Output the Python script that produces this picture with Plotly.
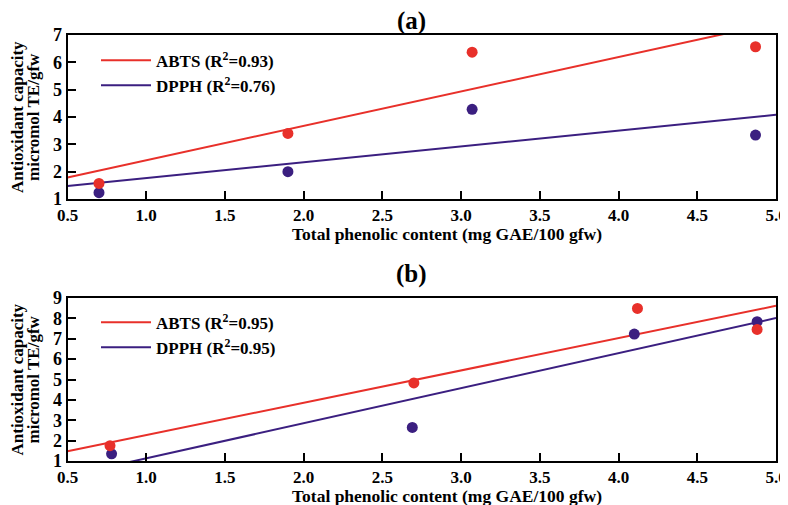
import numpy as np
import plotly.graph_objects as go

# ---------------- data ----------------
# Panel (a)
a_x = [0.70, 1.90, 3.07, 4.87]
a_abts = [1.57, 3.40, 6.37, 6.57]
a_dpph = [1.23, 2.00, 4.28, 3.34]
a_abts_r2 = "0.93"
a_dpph_r2 = "0.76"

# Panel (b)
b_x_abts = [0.77, 2.70, 4.12, 4.88]
b_abts = [1.75, 4.83, 8.49, 7.46]
b_x_dpph = [0.78, 2.69, 4.10, 4.88]
b_dpph = [1.35, 2.65, 7.23, 7.84]
b_abts_r2 = "0.95"
b_dpph_r2 = "0.95"

x_ticks = [0.5, 1.0, 1.5, 2.0, 2.5, 3.0, 3.5, 4.0, 4.5, 5.0]
a_y_ticks = [1, 2, 3, 4, 5, 6, 7]
b_y_ticks = [1, 2, 3, 4, 5, 6, 7, 8, 9]

RED = "#E8302A"
PURPLE = "#3B1F80"
FONT = "Liberation Serif, Times New Roman, serif"

fit_x = np.array([0.5, 5.0])


def fit(x, y):
    k, b = np.polyfit(x, y, 1)
    return k * fit_x + b


fig = go.Figure()

# panel (a)
fig.add_trace(go.Scatter(x=fit_x, y=fit(a_x, a_abts), mode="lines",
                         line=dict(color=RED, width=2),
                         name="<b>ABTS (R<sup>2</sup>=%s)</b>" % a_abts_r2,
                         legend="legend", legendgroup="a1",
                         xaxis="x", yaxis="y"))
fig.add_trace(go.Scatter(x=fit_x, y=fit(a_x, a_dpph), mode="lines",
                         line=dict(color=PURPLE, width=2),
                         name="<b>DPPH (R<sup>2</sup>=%s)</b>" % a_dpph_r2,
                         legend="legend", legendgroup="a2",
                         xaxis="x", yaxis="y"))
fig.add_trace(go.Scatter(x=a_x, y=a_dpph, mode="markers",
                         marker=dict(color=PURPLE, size=11),
                         showlegend=False, xaxis="x", yaxis="y"))
fig.add_trace(go.Scatter(x=a_x, y=a_abts, mode="markers",
                         marker=dict(color=RED, size=11),
                         showlegend=False, xaxis="x", yaxis="y"))

# panel (b)
fig.add_trace(go.Scatter(x=fit_x, y=fit(b_x_abts, b_abts), mode="lines",
                         line=dict(color=RED, width=2),
                         name="<b>ABTS (R<sup>2</sup>=%s)</b>" % b_abts_r2,
                         legend="legend2", legendgroup="b1",
                         xaxis="x2", yaxis="y2"))
fig.add_trace(go.Scatter(x=fit_x, y=fit(b_x_dpph, b_dpph), mode="lines",
                         line=dict(color=PURPLE, width=2),
                         name="<b>DPPH (R<sup>2</sup>=%s)</b>" % b_dpph_r2,
                         legend="legend2", legendgroup="b2",
                         xaxis="x2", yaxis="y2"))
fig.add_trace(go.Scatter(x=b_x_dpph, y=b_dpph, mode="markers",
                         marker=dict(color=PURPLE, size=11),
                         showlegend=False, xaxis="x2", yaxis="y2"))
fig.add_trace(go.Scatter(x=b_x_abts, y=b_abts, mode="markers",
                         marker=dict(color=RED, size=11),
                         showlegend=False, xaxis="x2", yaxis="y2"))

# page body has an 8px margin: figure is laid out in screen pixels minus 8
OFF = 8
W, H = 788 - OFF, 505 - OFF


def px(sx):
    return (sx - OFF) / W


def py(sy):
    return 1 - (sy - OFF) / H


L, R = 67.5, 776
a_top, a_bot = 35, 199
b_top, b_bot = 298, 461

axis_common = dict(showline=True, linecolor="black", linewidth=2, mirror=True,
                   ticks="inside", ticklen=8, tickwidth=1.5, tickcolor="black",
                   showgrid=False, zeroline=False, automargin=False)
xfont = dict(family=FONT, size=17, color="black")
yfont = dict(family=FONT, size=18, color="black")

legend_common = dict(xanchor="left", yanchor="top", bgcolor="rgba(0,0,0,0)",
                     tracegroupgap=0, itemwidth=50,
                     font=dict(family=FONT, size=17, color="black"))

fig.update_layout(
    template="none",
    width=W, height=H,
    margin=dict(l=0, r=0, t=0, b=0, pad=0, autoexpand=False),
    plot_bgcolor="white", paper_bgcolor="white",
    font=dict(family=FONT, color="black"),
    xaxis=dict(domain=[px(L), px(R)], range=[0.5, 5.0], tickvals=x_ticks,
               ticktext=[f"<b>{v:.1f}</b>" for v in x_ticks], anchor="y",
               tickfont=xfont, **axis_common),
    yaxis=dict(domain=[py(a_bot), py(a_top)], range=[1, 7],
               tickvals=a_y_ticks, ticktext=[f"<b>{v}</b>" for v in a_y_ticks],
               anchor="x", tickfont=yfont, **axis_common),
    xaxis2=dict(domain=[px(L), px(R)], range=[0.5, 5.0], tickvals=x_ticks,
                ticktext=[f"<b>{v:.1f}</b>" for v in x_ticks], anchor="y2",
                tickfont=xfont, **axis_common),
    yaxis2=dict(domain=[py(b_bot), py(b_top)], range=[1, 9],
                tickvals=b_y_ticks, ticktext=[f"<b>{v}</b>" for v in b_y_ticks],
                anchor="x2", tickfont=yfont, **axis_common),
    legend=dict(x=px(96), y=py(42.7), **legend_common),
    legend2=dict(x=px(96), y=py(304.7), **legend_common),
    showlegend=True,
)

ytitle1 = "<b>Antioxidant capacity</b>"
ytitle2 = "<b>micromol TE/gfw</b>"
xtitle = "<b>Total phenolic content (mg GAE/100 gfw)</b>"
ann = []
for top, bot, lab, title_y in [(a_top, a_bot, "(a)", 21), (b_top, b_bot, "(b)", 274)]:
    mid = (top + bot) / 2
    ann.append(dict(x=px(411), y=py(title_y), xref="paper", yref="paper",
                    text=f"<b>{lab}</b>", showarrow=False,
                    font=dict(family=FONT, size=25, color="black"),
                    xanchor="center", yanchor="middle"))
    ann.append(dict(x=px(17), y=py(mid), xref="paper", yref="paper",
                    text=ytitle1, showarrow=False, textangle=-90,
                    font=dict(family=FONT, size=17, color="black"),
                    xanchor="center", yanchor="middle"))
    ann.append(dict(x=px(33), y=py(mid), xref="paper", yref="paper",
                    text=ytitle2, showarrow=False, textangle=-90,
                    font=dict(family=FONT, size=17, color="black"),
                    xanchor="center", yanchor="middle"))
    ann.append(dict(x=px(447), y=py(bot + 34.5), xref="paper", yref="paper",
                    text=xtitle, showarrow=False,
                    font=dict(family=FONT, size=17.5, color="black"),
                    xanchor="center", yanchor="middle"))
fig.update_layout(annotations=ann)

fig.write_html("out.html")
